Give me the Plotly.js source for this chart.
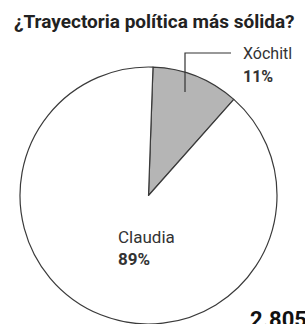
<!DOCTYPE html>
<html>
<head>
<meta charset="utf-8">
<script src="https://cdn.plot.ly/plotly-3.0.1.min.js"></script>
<style>html,body{margin:0;padding:0;background:#fff;}#chart{width:305px;height:324px;}</style>
</head>
<body>
<div id="chart"></div>
<script>
const candidates = ["Xóchitl", "Claudia"];
const shares = [11, 89];
const sliceColors = ["#b5b5b5", "#ffffff"];
const titleText = "¿Trayectoria política más sólida?";
const totalText = "2.805";

const W = 305, H = 324;
const px = x => x / W;
const py = y => 1 - y / H;

const trace = {
  type: "pie",
  labels: candidates,
  values: shares,
  sort: false,
  direction: "clockwise",
  rotation: 2,
  textinfo: "none",
  hoverinfo: "none",
  marker: { colors: sliceColors, line: { color: "#3a3a3a", width: 1.2 } },
  domain: { x: [px(19), px(278)], y: [0, py(67)] },
  showlegend: false
};

const layout = {
  width: W, height: H,
  margin: { l: 0, r: 0, t: 0, b: 0 },
  paper_bgcolor: "#ffffff",
  font: { family: "Roboto, 'Noto Sans', sans-serif", color: "#222" },
  showlegend: false,
  shapes: [
    { type: "path", xref: "paper", yref: "paper",
      path: `M ${px(185)} ${py(92)} L ${px(185)} ${py(53)} L ${px(231)} ${py(53)}`,
      line: { color: "#333", width: 1.2 } }
  ],
  annotations: [
    { text: "<b>" + titleText + "</b>", xref: "paper", yref: "paper",
      x: px(12), y: py(22), xanchor: "left", yanchor: "middle", showarrow: false,
      font: { size: 19, color: "#222" } },
    { text: candidates[0], xref: "paper", yref: "paper",
      x: px(241), y: py(54), xanchor: "left", yanchor: "middle", showarrow: false,
      font: { size: 16, color: "#333" } },
    { text: "<b>" + shares[0] + "%</b>", xref: "paper", yref: "paper",
      x: px(241), y: py(77), xanchor: "left", yanchor: "middle", showarrow: false,
      font: { size: 16, color: "#333" } },
    { text: candidates[1], xref: "paper", yref: "paper",
      x: px(116), y: py(237), xanchor: "left", yanchor: "middle", showarrow: false,
      font: { size: 17, color: "#333" } },
    { text: "<b>" + shares[1] + "%</b>", xref: "paper", yref: "paper",
      x: px(116), y: py(259), xanchor: "left", yanchor: "middle", showarrow: false,
      font: { size: 17, color: "#333" } },
    { text: "<b>" + totalText + "</b>", xref: "paper", yref: "paper",
      x: px(248), y: py(305), xanchor: "left", yanchor: "top", showarrow: false,
      font: { size: 22, color: "#111" } }
  ]
};

Plotly.newPlot("chart", [trace], layout, { staticPlot: true, displayModeBar: false });
</script>
</body>
</html>
